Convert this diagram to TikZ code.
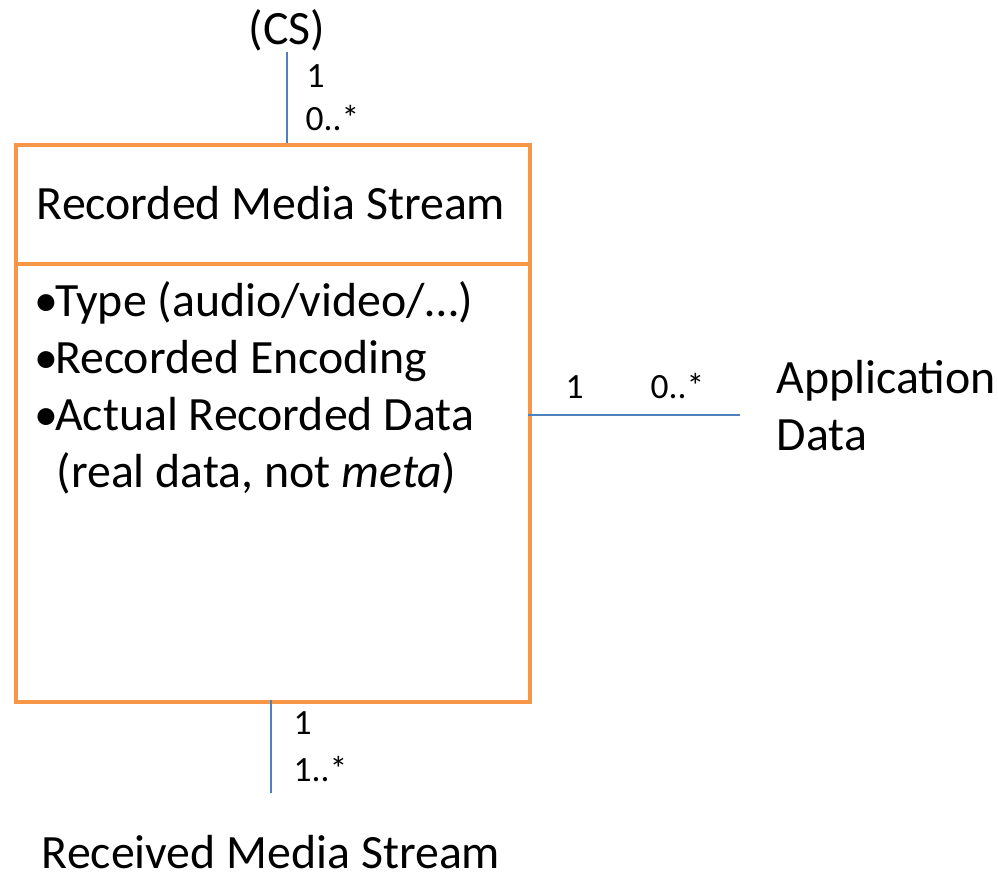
\documentclass[tikz,border=0pt]{standalone}
\usepackage{fontspec}
\setmainfont{Carlito}
\definecolor{boxorange}{HTML}{F79646}
\definecolor{linkblue}{HTML}{4F81BD}
\newcommand{\bul}{•\kern-0.07em}
\begin{document}
\begin{tikzpicture}[x=0.01cm,y=-0.01cm,
  big/.style={font=\fontsize{13.6}{15}\selectfont, inner sep=0pt},
  small/.style={font=\fontsize{10.1}{11}\selectfont, inner sep=0pt},
  boxline/.style={draw=boxorange, line width=1.15pt},
  link/.style={draw=linkblue, line width=0.45pt}]
\useasboundingbox (0,0) rectangle (998,878);
% class box
\node[boxline, rectangle, minimum width=5.14cm, minimum height=5.57cm, inner sep=0pt, anchor=north west] (box) at (14,143) {};
\coordinate (bt) at (287,143);
\coordinate (bb) at (271,700);
\coordinate (br) at (528,415);
\draw[boxline] (box.west |- 0,264) -- (box.east |- 0,264);
\node[big, anchor=base] (title) at (271,219) {Recorded Media Stream};
\node[big, anchor=base west] (a1) at (34,316) {\bul Type (audio/video/…)};
\node[big, anchor=base west] (a2) at (34,373) {\bul Recorded Encoding};
\node[big, anchor=base west] (a3) at (34,430) {\bul Actual Recorded Data};
\node[big, anchor=base west] (a4) at (56,487) {(real data, not \textit{meta})};
% top association
\node[big, anchor=base] (cs) at (287,44) {(CS)};
\coordinate (ct) at (287,52);
\draw[link] (ct) -- (bt);
\node[small, anchor=base west] (m1) at (306,87) {1};
\node[small, anchor=base west] (m2) at (305,130) {0..*};
% right association
\coordinate (ar) at (740,415);
\draw[link] (br) -- (ar);
\node[small, anchor=base west] (m3) at (565,398) {1};
\node[small, anchor=base west] (m4) at (650,398) {0..*};
\node[big, anchor=base west] (app) at (776,393) {Application};
\node[big, anchor=base west] (data) at (776,450) {Data};
% bottom association
\coordinate (cb) at (271,793);
\draw[link] (bb) -- (cb);
\node[small, anchor=base west] (m5) at (293,734) {1};
\node[small, anchor=base west] (m6) at (293,781) {1..*};
\node[big, anchor=base] (rms) at (271,868) {Received Media Stream};
\end{tikzpicture}
\end{document}
